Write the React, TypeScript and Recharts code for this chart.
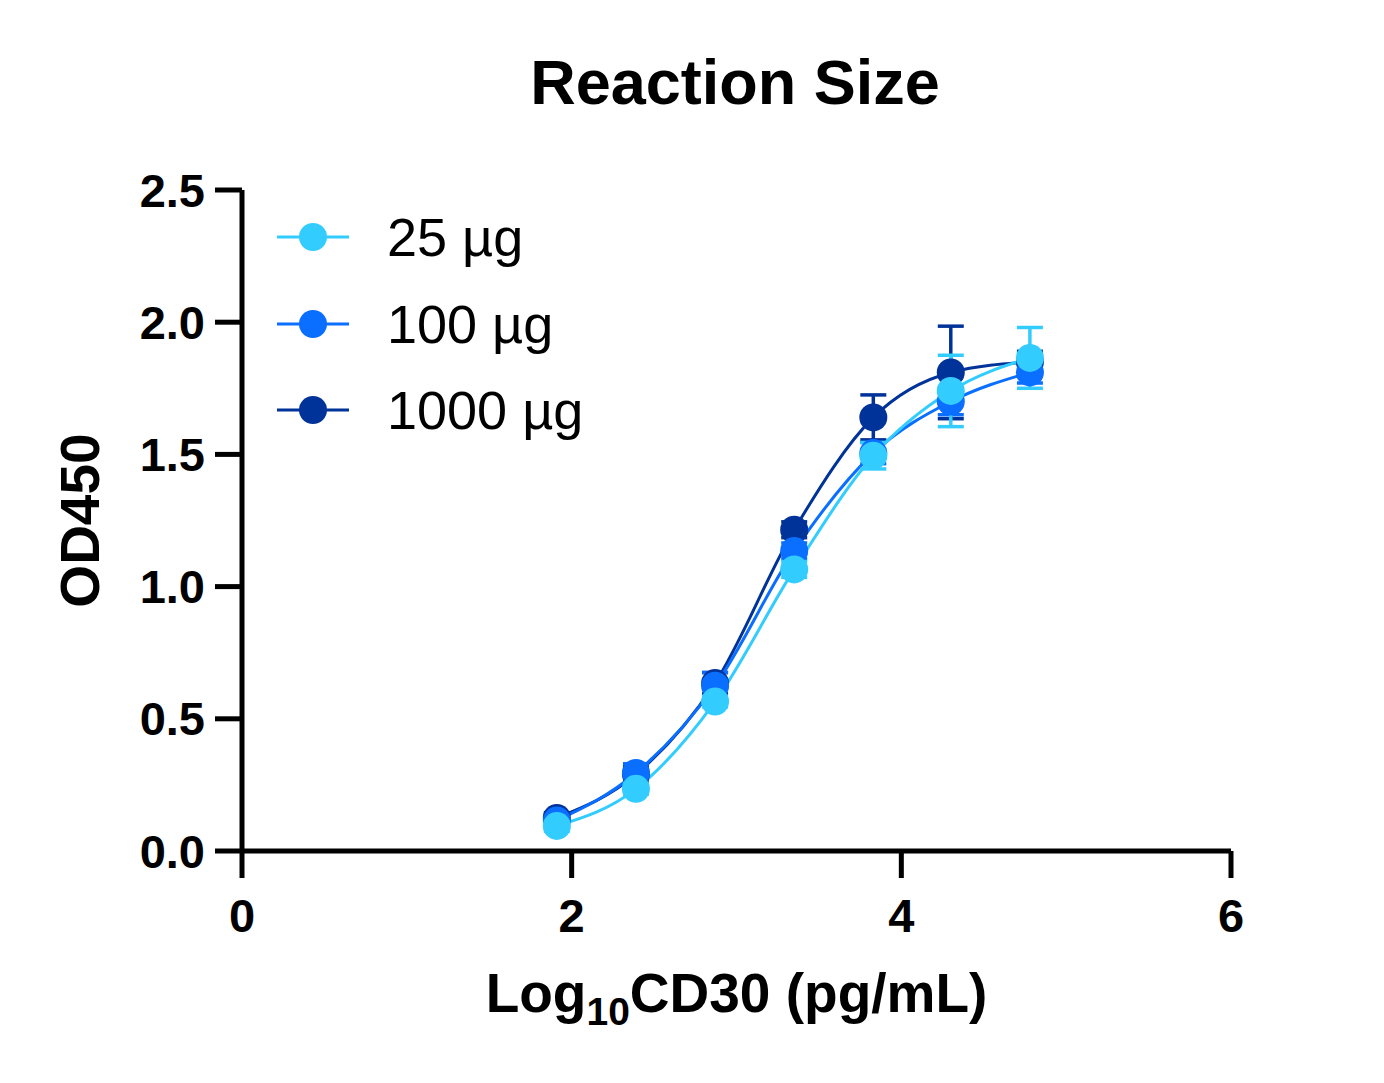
import React from "react";
import { ComposedChart, Line, XAxis, YAxis, ErrorBar, Label } from "recharts";

// log10 of CD30 concentration (pg/mL), 3-fold dilutions
const logConc = [1.91, 2.39, 2.87, 3.35, 3.83, 4.3, 4.78];

const od25 = [0.095, 0.235, 0.565, 1.065, 1.495, 1.74, 1.865];
const err25 = [0.02, 0.02, 0.02, 0.03, 0.05, 0.135, 0.115];

const od100 = [0.115, 0.295, 0.625, 1.135, 1.505, 1.7, 1.81];
const err100 = [0.02, 0.035, 0.05, 0.03, 0.04, 0.05, 0.04];

const od1000 = [0.125, 0.29, 0.635, 1.215, 1.64, 1.81, 1.85];
const err1000 = [0.02, 0.03, 0.04, 0.03, 0.085, 0.175, 0.04];

const xTicks = [0, 2, 4, 6];
const yTicks = [0, 0.5, 1, 1.5, 2, 2.5];

const series = [
  { key: "s25", name: "25 µg", color: "#33CCFF" },
  { key: "s100", name: "100 µg", color: "#0A6EFF" },
  { key: "s1000", name: "1000 µg", color: "#003399" },
];

const data = logConc.map((x, i) => ({
  x,
  s25: od25[i],
  s25err: err25[i],
  s100: od100[i],
  s100err: err100[i],
  s1000: od1000[i],
  s1000err: err1000[i],
}));

const FONT = "'Liberation Sans', Arial, Helvetica, sans-serif";

const LegendBox = () => (
  <div style={{ position: "absolute", left: 277, top: 194, fontFamily: FONT }}>
    {series.map((s) => (
      <div key={s.key} style={{ display: "flex", alignItems: "center", height: 86.5 }}>
        <svg width={72} height={30}>
          <line x1={0} y1={15} x2={72} y2={15} stroke={s.color} strokeWidth={3} />
          <circle cx={36} cy={15} r={14} fill={s.color} />
        </svg>
        <span style={{ fontSize: 54, marginLeft: 38, color: "#000", lineHeight: 1 }}>{s.name}</span>
      </div>
    ))}
  </div>
);

const XTitle = (props: any) => {
  const { x, y, width } = props.viewBox;
  return (
    <text
      x={x + width / 2}
      y={y + 161}
      textAnchor="middle"
      fontFamily={FONT}
      fontWeight="bold"
      fontSize={55}
      fill="#000"
    >
      Log
      <tspan fontSize={39} dy={13}>
        10
      </tspan>
      <tspan dy={-13}>CD30 (pg/mL)</tspan>
    </text>
  );
};

const YTitle = (props: any) => {
  const { y, height } = props.viewBox;
  const cx = 99;
  const cy = y + height / 2;
  return (
    <text
      x={cx}
      y={cy}
      transform={`rotate(-90, ${cx}, ${cy})`}
      textAnchor="middle"
      fontFamily={FONT}
      fontWeight="bold"
      fontSize={55}
      fill="#000"
    >
      OD450
    </text>
  );
};

const tickStyle = { fontFamily: FONT, fontWeight: "bold", fontSize: 47, fill: "#000" };

export default function App() {
  return (
    <div style={{ position: "relative", width: 1384, height: 1083, background: "#fff" }}>
      <style>{`body{margin:0;}`}</style>
      <div
        style={{
          position: "absolute",
          top: 51,
          left: 0,
          width: 1470,
          textAlign: "center",
          fontFamily: FONT,
          fontWeight: "bold",
          fontSize: 63,
          lineHeight: 1,
          color: "#000",
        }}
      >
        Reaction Size
      </div>
      <ComposedChart
        width={1384}
        height={1083}
        data={data}
        margin={{ top: 190, right: 153, bottom: 0, left: 0 }}
      >
        <XAxis
          type="number"
          dataKey="x"
          domain={[0, 6]}
          ticks={xTicks}
          height={232}
          tickSize={27}
          tickMargin={21}
          axisLine={{ stroke: "#000", strokeWidth: 5 }}
          tickLine={{ stroke: "#000", strokeWidth: 5 }}
          tick={tickStyle}
          interval={0}
        >
          <Label content={XTitle} />
        </XAxis>
        <YAxis
          type="number"
          domain={[0, 2.5]}
          ticks={yTicks}
          width={242}
          tickSize={27}
          tickMargin={10}
          axisLine={{ stroke: "#000", strokeWidth: 5 }}
          tickLine={{ stroke: "#000", strokeWidth: 5 }}
          tick={tickStyle}
          tickFormatter={(v: number) => v.toFixed(1)}
          interval={0}
        >
          <Label content={YTitle} />
        </YAxis>
        {[...series].reverse().map((s) => (
          <Line
            key={s.key}
            type="monotone"
            dataKey={s.key}
            name={s.name}
            stroke={s.color}
            strokeWidth={3}
            dot={{ r: 14, fill: s.color, stroke: "none" }}
            activeDot={false}
            isAnimationActive={false}
          >
            <ErrorBar
              dataKey={`${s.key}err`}
              direction="y"
              width={13}
              stroke={s.color}
              strokeWidth={3.5}
              isAnimationActive={false}
            />
          </Line>
        ))}
      </ComposedChart>
      <LegendBox />
    </div>
  );
}
